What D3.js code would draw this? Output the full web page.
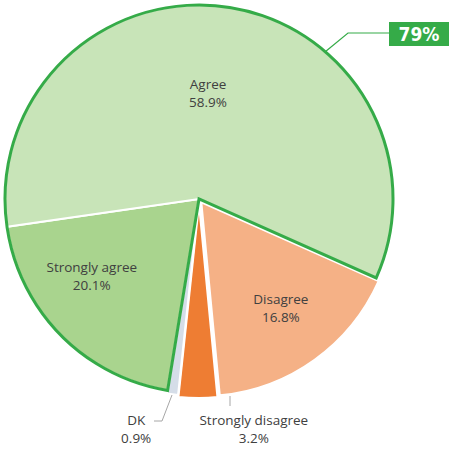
<!DOCTYPE html>
<html>
<head>
<meta charset="utf-8">
<script src="https://cdn.jsdelivr.net/npm/d3@7"></script>
<style>
  body { margin: 0; background: #fff; }
  svg text { font-family: "Open Sans", sans-serif; fill: #404040; }
</style>
</head>
<body>
<div id="chart"></div>
<script>
// Survey answers, in the order the pie draws them (clockwise)
const categories = ["Disagree", "Strongly disagree", "DK", "Strongly agree", "Agree"];
const shares = [16.8, 3.2, 0.9, 20.1, 58.9];
const shareLabels = ["16.8%", "3.2%", "0.9%", "20.1%", "58.9%"];
const totalAgreeLabel = "79%";

const colors = ["#f5b186", "#ee7d33", "#d5dde8", "#a9d48e", "#c8e4b8"];
const explode = [4, 5, 3, 0, 0];

const width = 449, height = 449;
const cx = 199, cy = 199, radius = 194;
const green = "#35ab48";

const svg = d3.select("#chart")
  .append("svg")
  .attr("width", width)
  .attr("height", height);

const g = svg.append("g").attr("transform", `translate(${cx},${cy})`);

// Excel starts this pie a bit past 3 o'clock
const startAngle = 114 * Math.PI / 180;
const pie = d3.pie()
  .sort(null)
  .value(d => d)
  .startAngle(startAngle)
  .endAngle(startAngle + 2 * Math.PI);

const arcs = pie(shares);
const arc = d3.arc().innerRadius(0).outerRadius(radius);

function offset(d, i) {
  const a = (d.startAngle + d.endAngle) / 2;
  return [Math.sin(a) * explode[i], -Math.cos(a) * explode[i]];
}

g.selectAll("path.slice")
  .data(arcs)
  .enter()
  .append("path")
  .attr("class", "slice")
  .attr("d", arc)
  .attr("transform", (d, i) => `translate(${offset(d, i)})`)
  .attr("fill", (d, i) => colors[i])
  .attr("stroke", "#fff")
  .attr("stroke-width", 2);

// green outline round the two "agree" slices together
const agreeArc = d3.arc().innerRadius(0).outerRadius(radius)
  .startAngle(arcs[3].startAngle)
  .endAngle(arcs[4].endAngle);
g.append("path")
  .attr("d", agreeArc())
  .attr("fill", "none")
  .attr("stroke", green)
  .attr("stroke-width", 3)
  .attr("stroke-linejoin", "miter");

// callout with the 79% total
const calloutAngle = 40.6 * Math.PI / 180;
const p0 = [Math.sin(calloutAngle) * radius, -Math.cos(calloutAngle) * radius];
g.append("polyline")
  .attr("points", [p0, [149, -166], [191, -166]].map(p => p.join(",")).join(" "))
  .attr("fill", "none")
  .attr("stroke", green)
  .attr("stroke-width", 1.2);
g.append("rect")
  .attr("x", 190).attr("y", -177)
  .attr("width", 62).attr("height", 24)
  .attr("fill", green);
g.append("text")
  .attr("x", 220).attr("y", -158)
  .attr("text-anchor", "middle")
  .style("font-family", "'DejaVu Sans', sans-serif")
  .style("font-stretch", "condensed")
  .style("font-weight", "bold")
  .style("font-size", "19px")
  .style("fill", "#fff")
  .text(totalAgreeLabel);

// data labels: [angle in degrees, radius] for each slice
const labelPolar = [[143, 136], [166.6, 236.5], [195.3, 238], [234.3, 132], [4.9, 106]];
const labelSize = 13.5;

const labels = g.selectAll("g.label")
  .data(arcs)
  .enter()
  .append("g")
  .attr("class", "label")
  .attr("transform", (d, i) => {
    const a = labelPolar[i][0] * Math.PI / 180, r = labelPolar[i][1];
    return `translate(${Math.sin(a) * r},${-Math.cos(a) * r})`;
  });

labels.append("text")
  .attr("text-anchor", "middle")
  .attr("y", -4)
  .style("font-size", labelSize + "px")
  .text((d, i) => categories[i]);
labels.append("text")
  .attr("text-anchor", "middle")
  .attr("y", 14)
  .style("font-size", labelSize + "px")
  .text((d, i) => shareLabels[i]);

// leader lines for the two thin slices
g.append("polyline")
  .attr("points", "-27,196 -37,222 -45,222")
  .attr("fill", "none")
  .attr("stroke", "#a6a6a6")
  .attr("stroke-width", 1);
g.append("line")
  .attr("x1", 31).attr("y1", 197)
  .attr("x2", 31).attr("y2", 207)
  .attr("stroke", "#a6a6a6")
  .attr("stroke-width", 1);
</script>
</body>
</html>
